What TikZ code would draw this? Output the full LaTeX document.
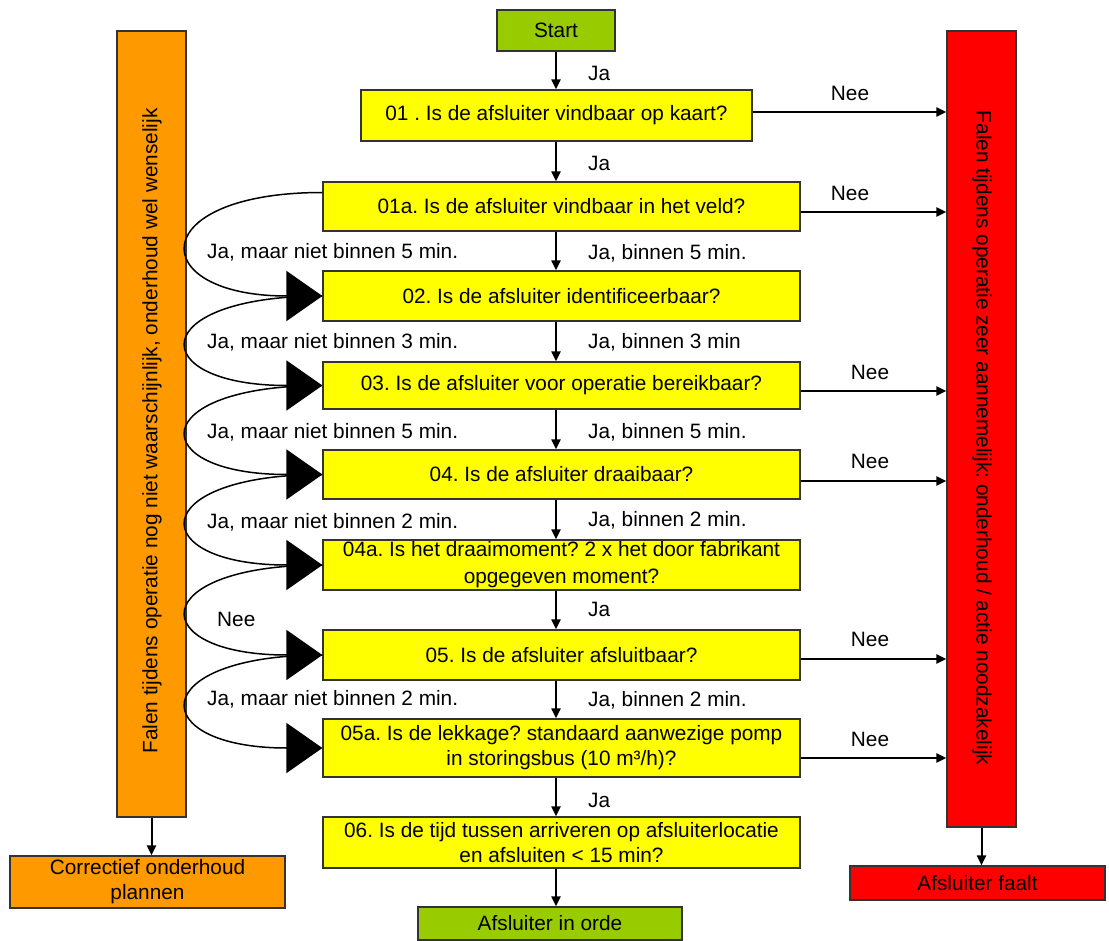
\documentclass[tikz,border=0pt]{standalone}
\usepackage{fontspec}
\setmainfont{Liberation Sans}
\usetikzlibrary{arrows.meta}
\definecolor{cyel}{HTML}{FFFF00}
\definecolor{cgreen}{HTML}{99CC00}
\definecolor{corange}{HTML}{FF9900}
\definecolor{cred}{HTML}{FF0000}
\frenchspacing
\begin{document}
\begin{tikzpicture}[x=1pt,y=-1pt,
  font=\fontsize{20.8}{25}\selectfont,
  box/.style={draw=black!80, line width=1.2pt, fill=cyel, inner sep=0pt, align=center},
  arr/.style={-{Triangle[length=10pt,width=9pt]}, line width=2pt},
  bigloop/.style={-{Triangle[length=36pt,width=50pt]}, line width=1.5pt},
  lbl/.style={anchor=west, inner sep=0pt},
  nee/.style={inner sep=0pt}]
\useasboundingbox[fill=white] (0,0) rectangle (1109,941);

% main column
\node[box, fill=cgreen, minimum width=118, minimum height=41] (start) at (556,30.5) {Start};
\node[box, minimum width=391, minimum height=51] (b01) at (556.5,115.5) {01 . Is de afsluiter vindbaar op kaart?};
\node[box, minimum width=477, minimum height=49] (b01a) at (561.5,206.5) {01a. Is de afsluiter vindbaar in het veld?};
\node[box, minimum width=477, minimum height=50] (b02) at (561.5,296) {02. Is de afsluiter identificeerbaar?};
\node[box, minimum width=477, minimum height=47] (b03) at (561.5,385.5) {03. Is de afsluiter voor operatie bereikbaar?};
\node[box, minimum width=477, minimum height=49] (b04) at (561.5,474.5) {04. Is de afsluiter draaibaar?};
\node[box, minimum width=477, minimum height=50, font=\fontsize{20.8}{27}\selectfont] (b04a) at (561.5,565) {04a. Is het draaimoment? 2 x het door fabrikant\\opgegeven moment?};
\node[box, minimum width=477, minimum height=50] (b05) at (561.5,655) {05. Is de afsluiter afsluitbaar?};
\node[box, minimum width=477, minimum height=58] (b05a) at (561.5,748) {05a. Is de lekkage? standaard aanwezige pomp\\in storingsbus (10 m³/h)?};
\node[box, minimum width=477, minimum height=51] (b06) at (561.5,842.5) {06. Is de tijd tussen arriveren op afsluiterlocatie\\en afsluiten < 15 min?};
\node[box, fill=cgreen, minimum width=264, minimum height=33] (ok) at (550,923.5) {Afsluiter in orde};

% side bars
\node[box, fill=corange, minimum width=69, minimum height=786] (orange) at (151.5,424) {};
\node[rotate=90, inner sep=0pt] (otext) at (152,431) {Falen tijdens operatie nog niet waarschijnlijk, onderhoud wel wenselijk};
\node[box, fill=corange, minimum width=275, minimum height=52] (corr) at (147.5,882) {Correctief onderhoud\\plannen};

\node[box, fill=cred, minimum width=69, minimum height=796] (red) at (981.5,429) {};
\node[rotate=-90, inner sep=0pt] (rtext) at (982,438) {Falen tijdens operatie zeer aannemelijk: onderhoud / actie noodzakelijk};
\node[box, fill=cred, minimum width=255, minimum height=34] (fail) at (977.5,883) {Afsluiter faalt};

% vertical arrows
\draw[arr] (start.south) -- (start.south |- b01.north);
\draw[arr] (b01.south -| start.south) -- (b01a.north -| start.south);
\draw[arr] (b01a.south -| start.south) -- (b02.north -| start.south);
\draw[arr] (b02.south -| start.south) -- (b03.north -| start.south);
\draw[arr] (b03.south -| start.south) -- (b04.north -| start.south);
\draw[arr] (b04.south -| start.south) -- (b04a.north -| start.south);
\draw[arr] (b04a.south -| start.south) -- (b05.north -| start.south);
\draw[arr] (b05.south -| start.south) -- (b05a.north -| start.south);
\draw[arr] (b05a.south -| start.south) -- (b06.north -| start.south);
\draw[arr] (b06.south -| start.south) -- (ok.north -| start.south);
\draw[arr] (orange.south) -- (orange.south |- corr.north);
\draw[arr] (red.south) -- (red.south |- fail.north);

% labels on vertical arrows
\node[lbl] at (588,73) {Ja};
\node[lbl] at (588,163) {Ja};
\node[lbl] at (588,253) {Ja, binnen 5 min.};
\node[lbl] at (588,342) {Ja, binnen 3 min};
\node[lbl] at (588,432) {Ja, binnen 5 min.};
\node[lbl] at (588,520) {Ja, binnen 2 min.};
\node[lbl] at (588,609) {Ja};
\node[lbl] at (588,700) {Ja, binnen 2 min.};
\node[lbl] at (588,800) {Ja};

% Nee arrows to the red bar
\draw[arr] ([yshift=3.5pt]b01.east) -- ([yshift=3.5pt]b01.east -| red.west);
\draw[arr] ([yshift=-5.5pt]b01a.east) -- ([yshift=-5.5pt]b01a.east -| red.west);
\draw[arr] ([yshift=-5.5pt]b03.east) -- ([yshift=-5.5pt]b03.east -| red.west);
\draw[arr] ([yshift=-6.5pt]b04.east) -- ([yshift=-6.5pt]b04.east -| red.west);
\draw[arr] ([yshift=-4pt]b05.east) -- ([yshift=-4pt]b05.east -| red.west);
\draw[arr] ([yshift=-10pt]b05a.east) -- ([yshift=-10pt]b05a.east -| red.west);
\node[nee] at (850,93) {Nee};
\node[nee] at (850,193) {Nee};
\node[nee] at (870,372) {Nee};
\node[nee] at (870,461) {Nee};
\node[nee] at (870,639) {Nee};
\node[nee] at (870,739) {Nee};

% loops on the left
\draw[bigloop] ([yshift=14pt]b01a.west) .. controls +(-178,0) and +(-178,0) .. (b02.west);
\draw[bigloop] (b02.west) .. controls +(-178,0) and +(-178,0) .. (b03.west);
\draw[bigloop] (b03.west) .. controls +(-178,0) and +(-178,0) .. (b04.west);
\draw[bigloop] (b04.west) .. controls +(-178,0) and +(-178,0) .. (b04a.west);
\draw[bigloop] (b04a.west) .. controls +(-178,0) and +(-178,0) .. (b05.west);
\draw[bigloop] (b05.west) .. controls +(-178,0) and +(-178,0) .. (b05a.west);
\node[lbl] at (207,252) {Ja, maar niet binnen 5 min.};
\node[lbl] at (207,342) {Ja, maar niet binnen 3 min.};
\node[lbl] at (207,432) {Ja, maar niet binnen 5 min.};
\node[lbl] at (207,522) {Ja, maar niet binnen 2 min.};
\node[lbl] at (217,619) {Nee};
\node[lbl] at (207,699) {Ja, maar niet binnen 2 min.};
\end{tikzpicture}
\end{document}
